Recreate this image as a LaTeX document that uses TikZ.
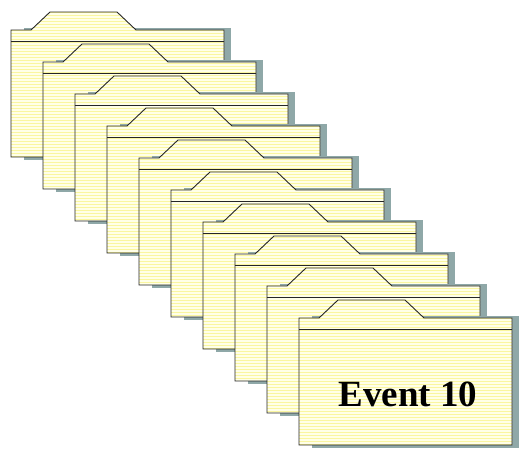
\documentclass[tikz,border=0pt]{standalone}
\usepackage{fontspec}
\setmainfont{Liberation Serif}
\usepackage{tikz}
\usetikzlibrary{patterns, positioning}
\definecolor{folderfill}{RGB}{255,255,232}
\definecolor{folderline}{RGB}{250,246,160}
\definecolor{foldershadow}{RGB}{143,168,168}
\tikzstyle{shadowbox} = [fill=foldershadow, draw=none]
\tikzstyle{folderbox} = [fill=folderfill, postaction={pattern=horizontal lines, pattern color=folderline}]
\tikzstyle{edge} = [draw=black!85, line width=0.9pt, line join=miter]

\begin{document}
\begin{tikzpicture}[x=1pt, y=-1pt]
			\useasboundingbox (0, 0) rectangle (528, 454);

			\foreach \i in {0,...,9} {
				\begin{scope}[shift={(11+32*\i, 30+32*\i)}]
					\fill [shadowbox] (13, -2) rectangle (220, 130);
					\path [folderbox] (0, 0) -- (20, 0) -- (39, -18) -- (106, -18) -- (125, 0)
						-- (213, 0) -- (213, 127) -- (0, 127) -- cycle;
					\draw [edge] (0, 0) -- (20, 0) -- (39, -18) -- (106, -18) -- (125, 0)
						-- (213, 0) -- (213, 127) -- (0, 127) -- cycle;
					\draw [edge] (0, 11) -- (213, 11);
				\end{scope}
			}

			\node (Label) [anchor=base, inner sep=0pt, font=\fontsize{37}{40}\selectfont\bfseries] at (408, 407) {Event 10};
		\end{tikzpicture}
\end{document}
